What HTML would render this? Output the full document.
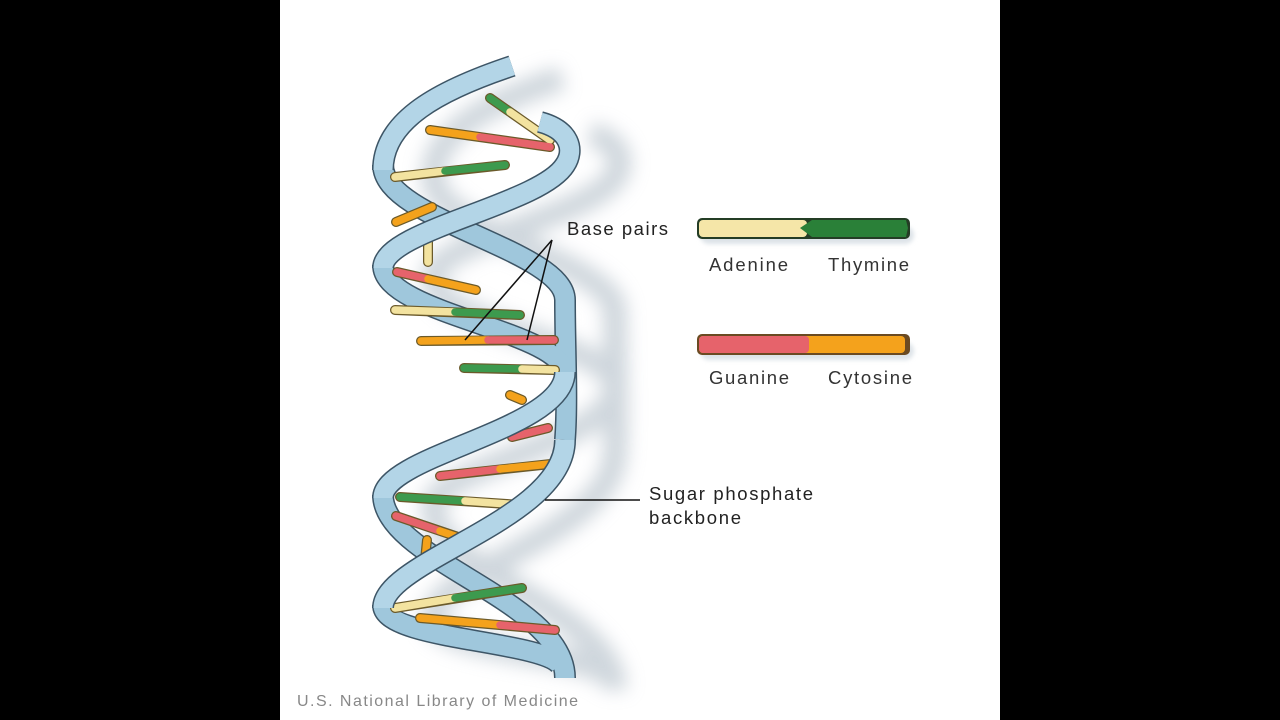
<!DOCTYPE html>
<html><head><meta charset="utf-8"><style>
html,body{margin:0;padding:0;background:#000;width:1280px;height:720px;overflow:hidden}
svg{display:block}
text{font-family:"Liberation Sans",sans-serif}
</style></head><body>
<svg width="1280" height="720" viewBox="0 0 1280 720" xmlns="http://www.w3.org/2000/svg">
<defs>
<filter id="bl" x="-50%" y="-50%" width="200%" height="200%"><feGaussianBlur stdDeviation="9"/></filter>
<filter id="bl2" x="-20%" y="-50%" width="140%" height="300%"><feGaussianBlur stdDeviation="2"/></filter>
</defs>
<rect x="0" y="0" width="1280" height="720" fill="#000"/>
<rect x="280" y="0" width="720" height="720" fill="#fff"/>

<g filter="url(#bl)" fill="none" stroke="#c3ccd4" stroke-width="24" opacity="0.8" transform="translate(50,12)">
<path d="M512,66 C440,90 383,120 383,165 C383,220 565,250 565,300 C565,350 568,400 565,440 C565,520 383,560 383,605 C383,640 540,640 560,665"/>
<path d="M540,122 C570,130 575,150 565,165 C540,205 383,230 383,265 C383,315 565,330 565,375 C565,430 383,455 383,495 C383,560 565,600 565,678"/>
</g>
<g filter="url(#bl2)">
<rect x="700" y="226" width="214" height="18" rx="9" fill="#dde3e8"/>
<rect x="700" y="342" width="214" height="18" rx="9" fill="#dde3e8"/>
</g>

<g fill="none">
<g stroke="#3d5566" stroke-width="22">
<path d="M383,165 C383,220 565,250 565,300 C565,350 568,400 565,440"/>
<path d="M383,605 C383,640 540,640 560,665"/>
<path d="M383,265 C383,315 565,330 565,375"/>
<path d="M383,495 C383,560 565,600 565,678"/>
</g>
<g stroke="#9fc7dc" stroke-width="19">
<path d="M383,165 C383,220 565,250 565,300 C565,350 568,400 565,440"/>
<path d="M383,605 C383,640 540,640 560,665"/>
<path d="M383,265 C383,315 565,330 565,375"/>
<path d="M383,495 C383,560 565,600 565,678"/>
</g>
</g>

<g stroke-linecap="round" fill="none">
<g stroke="#6b5a2a" stroke-width="10">
<line x1="490" y1="98" x2="550" y2="140"/>
<line x1="430" y1="130" x2="550" y2="147"/>
<line x1="395" y1="177" x2="505" y2="165"/>
<line x1="396" y1="222" x2="432" y2="207"/>
<line x1="428" y1="240" x2="428" y2="262"/>
<line x1="397" y1="272" x2="476" y2="290"/>
<line x1="395" y1="310" x2="520" y2="315"/>
<line x1="421" y1="341" x2="554" y2="340"/>
<line x1="464" y1="368" x2="555" y2="370"/>
<line x1="510" y1="395" x2="522" y2="400"/>
<line x1="512" y1="437" x2="548" y2="428"/>
<line x1="440" y1="476" x2="560" y2="463"/>
<line x1="400" y1="497" x2="522" y2="505"/>
<line x1="396" y1="516" x2="470" y2="541"/>
<line x1="427" y1="540" x2="425" y2="560"/>
<line x1="395" y1="608" x2="522" y2="588"/>
<line x1="420" y1="618" x2="555" y2="630"/>
</g>
<g stroke-width="7.5">
<line x1="490" y1="98" x2="510" y2="112" stroke="#3d9a4e"/><line x1="510" y1="112" x2="550" y2="140" stroke="#f3e3a0"/>
<line x1="430" y1="130" x2="480" y2="137" stroke="#f4a21c"/><line x1="480" y1="137" x2="550" y2="147" stroke="#e6636b"/>
<line x1="395" y1="177" x2="445" y2="171" stroke="#f3e3a0"/><line x1="445" y1="171" x2="505" y2="165" stroke="#3d9a4e"/>
<line x1="396" y1="222" x2="432" y2="207" stroke="#f4a21c"/>
<line x1="428" y1="240" x2="428" y2="262" stroke="#f3e3a0"/>
<line x1="397" y1="272" x2="428" y2="279" stroke="#e6636b"/><line x1="428" y1="279" x2="476" y2="290" stroke="#f4a21c"/>
<line x1="395" y1="310" x2="455" y2="312" stroke="#f3e3a0"/><line x1="455" y1="312" x2="520" y2="315" stroke="#3d9a4e"/>
<line x1="421" y1="341" x2="488" y2="340" stroke="#f4a21c"/><line x1="488" y1="340" x2="554" y2="340" stroke="#e6636b"/>
<line x1="464" y1="368" x2="522" y2="369" stroke="#3d9a4e"/><line x1="522" y1="369" x2="555" y2="370" stroke="#f3e3a0"/>
<line x1="510" y1="395" x2="522" y2="400" stroke="#f4a21c"/>
<line x1="512" y1="437" x2="548" y2="428" stroke="#e6636b"/>
<line x1="440" y1="476" x2="500" y2="469" stroke="#e6636b"/><line x1="500" y1="469" x2="560" y2="463" stroke="#f4a21c"/>
<line x1="400" y1="497" x2="465" y2="501" stroke="#3d9a4e"/><line x1="465" y1="501" x2="522" y2="505" stroke="#f3e3a0"/>
<line x1="396" y1="516" x2="440" y2="531" stroke="#e6636b"/><line x1="440" y1="531" x2="470" y2="541" stroke="#f4a21c"/>
<line x1="427" y1="540" x2="425" y2="560" stroke="#f4a21c"/>
<line x1="395" y1="608" x2="455" y2="598" stroke="#f3e3a0"/><line x1="455" y1="598" x2="522" y2="588" stroke="#3d9a4e"/>
<line x1="420" y1="618" x2="500" y2="625" stroke="#f4a21c"/><line x1="500" y1="625" x2="555" y2="630" stroke="#e6636b"/>
</g>
</g>

<g fill="none">
<g stroke="#3d5566" stroke-width="22">
<path d="M512,66 C440,90 383,120 383,170"/>
<path d="M565,440 C565,520 383,560 383,608"/>
<path d="M540,122 C570,130 575,150 565,165 C540,205 383,230 383,268"/>
<path d="M565,372 C565,430 383,455 383,498"/>
</g>
<g stroke="#b3d5e7" stroke-width="19">
<path d="M512,66 C440,90 383,120 383,170"/>
<path d="M565,440 C565,520 383,560 383,608"/>
<path d="M540,122 C570,130 575,150 565,165 C540,205 383,230 383,268"/>
<path d="M565,372 C565,430 383,455 383,498"/>
</g>
</g>

<g stroke="#111" stroke-width="1.5">
<line x1="552" y1="240" x2="465" y2="340"/>
<line x1="552" y1="240" x2="527" y2="340"/>
<line x1="545" y1="500" x2="640" y2="500"/>
</g>
<text x="567" y="235" font-size="18.5" fill="#222" textLength="101" lengthAdjust="spacing">Base pairs</text>
<text x="649" y="500" font-size="18.5" fill="#222" textLength="164" lengthAdjust="spacing">Sugar phosphate</text>
<text x="649" y="524" font-size="18.5" fill="#222" textLength="92" lengthAdjust="spacing">backbone</text>

<rect x="697" y="218" width="213" height="21" rx="5" fill="#243d25"/>
<rect x="699" y="220" width="108" height="17" rx="4" fill="#f5e6a8"/>
<polygon points="800,228 812,220 906,220 908,228 906,237 812,237" fill="#2a8038"/>
<rect x="697" y="334" width="213" height="21" rx="5" fill="#6a4a22"/>
<rect x="699" y="336" width="206" height="17" rx="4" fill="#f4a21c"/>
<rect x="699" y="336" width="110" height="17" rx="4" fill="#e6636b"/>
<g font-size="18.5" fill="#333">
<text x="709" y="271" textLength="79" lengthAdjust="spacing">Adenine</text>
<text x="828" y="271" textLength="81" lengthAdjust="spacing">Thymine</text>
<text x="709" y="384" textLength="80" lengthAdjust="spacing">Guanine</text>
<text x="828" y="384" textLength="84" lengthAdjust="spacing">Cytosine</text>
</g>
<text x="297" y="706" font-size="16" fill="#888" textLength="281" lengthAdjust="spacing">U.S. National Library of Medicine</text>
</svg>
</body></html>
